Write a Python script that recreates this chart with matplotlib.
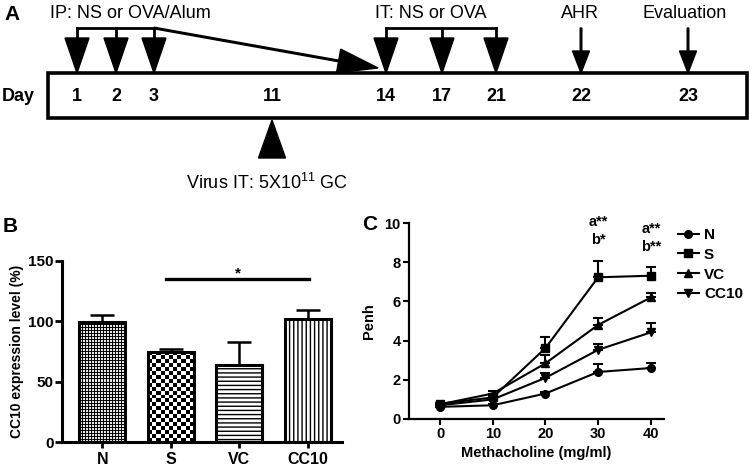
import numpy as np
import matplotlib
matplotlib.use("Agg")
import matplotlib.pyplot as plt
from matplotlib.patches import Rectangle

plt.rcParams['font.family'] = ['Liberation Sans', 'DejaVu Sans']
plt.rcParams['mathtext.default'] = 'regular'
plt.rcParams['hatch.linewidth'] = 1.0

# ---- panel A: timeline ----
days = ['1', '2', '3', '11', '14', '17', '21', '22', '23']
ip_days = ['1', '2', '3']
it_days = ['14', '17', '21']
virus_day = '11'
ahr_day = '22'
eval_day = '23'

# ---- panel B: CC10 expression ----
groups = ['N', 'S', 'VC', 'CC10']
cc10_level = [99.6, 74.9, 63.9, 102.1]
cc10_err = [5.7, 1.9, 18.7, 7.2]
sig_from, sig_to, sig_y = 0.93, 3.02, 135

# ---- panel C: AHR ----
methacholine = [0, 10, 20, 30, 40]
penh_n = [0.62, 0.70, 1.30, 2.40, 2.60]
penh_n_err = [0.05, 0.05, 0.06, 0.42, 0.25]
penh_s = [0.78, 1.10, 3.62, 7.23, 7.31]
penh_s_err = [0.05, 0.10, 0.55, 0.85, 0.43]
penh_vc = [0.75, 1.30, 2.84, 4.80, 6.20]
penh_vc_err = [0.05, 0.15, 0.40, 0.33, 0.23]
penh_cc10 = [0.70, 1.00, 2.10, 3.53, 4.42]
penh_cc10_err = [0.05, 0.10, 0.25, 0.32, 0.48]

fig = plt.figure(figsize=(7.5, 4.68), dpi=100)

# schematic drawn in a full-figure pixel frame
ax_a = fig.add_axes([0, 0, 1, 1])
ax_a.set_xlim(0, 750)
ax_a.set_ylim(468, 0)
ax_a.axis('off')

day_x = dict(zip(days, [77, 116, 154, 272, 386, 442, 496, 581, 688]))
box_left, box_right, box_top, box_bot = 48, 747, 73, 118
bracket_y, head_start = 28, 38

ax_a.add_patch(Rectangle((box_left, box_top), box_right - box_left, box_bot - box_top,
                         fill=False, lw=2.6, ec='k'))
ax_a.text(2, (box_top + box_bot) / 2 + 1, 'Day', fontsize=13, fontweight='bold', va='center')
for d in days:
    ax_a.text(day_x[d], (box_top + box_bot) / 2 + 1, d, fontsize=13, fontweight='bold',
              ha='center', va='center')


def big_down(x):
    ax_a.plot([x, x], [bracket_y, head_start], color='k', lw=2)
    ax_a.arrow(x, head_start, 0, box_top - head_start, width=0, head_width=24,
               head_length=box_top - head_start, length_includes_head=True, fc='k', ec='k')


for group in (ip_days, it_days):
    xs = [day_x[d] for d in group]
    ax_a.plot([xs[0], xs[-1]], [bracket_y, bracket_y], color='k', lw=2)
    for x in xs:
        big_down(x)

# long arrow from IP bracket to day 14
ax_a.arrow(day_x['3'], bracket_y, day_x['14'] - 8 - day_x['3'], box_top - 5 - bracket_y,
           width=1.6, head_width=24, head_length=40, length_includes_head=True,
           fc='k', ec='k')

for d in (ahr_day, eval_day):
    ax_a.arrow(day_x[d], bracket_y, 0, box_top - bracket_y, width=1.6, head_width=17,
               head_length=22, length_includes_head=True, fc='k', ec='k')

ax_a.arrow(day_x[virus_day], 158, 0, box_bot + 2 - 158, width=0, head_width=27,
           head_length=158 - box_bot - 2, length_includes_head=True, fc='k', ec='k')

ax_a.text(4, 14, 'A', fontsize=15, fontweight='bold', va='center')
ax_a.text(50, 13, 'IP: NS or OVA/Alum', fontsize=13, va='center')
ax_a.text(375, 13, 'IT: NS or OVA', fontsize=13, va='center')
ax_a.text(561, 13, 'AHR', fontsize=13, va='center')
ax_a.text(642, 13, 'Evaluation', fontsize=13, va='center')
ax_a.text(186, 183, 'Virus IT: 5X10$^{11}$ GC', fontsize=13, va='center')
ax_a.text(3, 226, 'B', fontsize=15, fontweight='bold', va='center')
ax_a.text(362, 224, 'C', fontsize=15, fontweight='bold', va='center')

# ---- panel B ----
ax_b = fig.add_axes([62 / 750, 1 - 442 / 468, 280 / 750, 181 / 468])
xpos = np.arange(len(groups))
ax_b.set_xlim(-0.59, 3.5)
ax_b.set_ylim(0, 150)

hatches = [None, None, '----', '||||']
bars = ax_b.bar(xpos, cc10_level, width=0.67, color='white', edgecolor='k',
                linewidth=0, zorder=2)
for b, h in zip(bars, hatches):
    if h:
        b.set_hatch(h)

fig.canvas.draw()


def pattern_fill(bar, tile, cell_px):
    ext = bar.get_window_extent()
    ny = int(round(ext.height / cell_px))
    nx = int(round(ext.width / cell_px))
    reps_y = ny // tile.shape[0] + 2
    reps_x = nx // tile.shape[1] + 2
    img = np.tile(tile, (reps_y, reps_x))[:ny, :nx]
    x0 = bar.get_x()
    im = ax_b.imshow(img, extent=(x0, x0 + bar.get_width(), 0, bar.get_height()),
                     cmap='gray', vmin=0, vmax=1, interpolation='nearest',
                     aspect='auto', zorder=2.5, origin='lower')
    im.set_clip_path(bar)


pattern_fill(bars[0], np.array([[0, 0.9, 0.9], [0, 0.9, 0.9], [0, 0, 0]]), 1.0)
pattern_fill(bars[1], np.array([[0, 1], [1, 0]]) * 1.0, 4.0)
ax_b.set_xlim(-0.59, 3.5)
ax_b.set_ylim(0, 150)

ax_b.bar(xpos, cc10_level, width=0.67, fill=False, edgecolor='k', linewidth=2.2, zorder=3)
ax_b.errorbar(xpos, cc10_level, yerr=[np.zeros(len(groups)), cc10_err], fmt='none',
              ecolor='k', elinewidth=1.8, capsize=8.5, capthick=1.8, zorder=1.5)
ax_b.plot([sig_from, sig_to], [sig_y, sig_y], color='k', lw=2.4)
ax_b.text((sig_from + sig_to) / 2, sig_y + 5, '*', ha='center', va='center',
          fontsize=11, fontweight='bold')

ax_b.set_yticks([0, 50, 100, 150])
ax_b.set_xticks(xpos)
ax_b.set_xticklabels(groups)
ax_b.tick_params(axis='x', length=4, width=2, pad=3, labelsize=11.5)
ax_b.tick_params(axis='y', length=5, width=2, pad=1, labelsize=11)
for lab in ax_b.get_xticklabels() + ax_b.get_yticklabels():
    lab.set_fontweight('bold')
for s in ('top', 'right'):
    ax_b.spines[s].set_visible(False)
for s in ('left', 'bottom'):
    ax_b.spines[s].set_linewidth(2.2)
ax_b.set_ylabel('CC10 expression level (%)', fontsize=10, fontweight='bold', labelpad=3)

# ---- panel C ----
ax_c = fig.add_axes([409 / 750, 1 - 419 / 468, 255 / 750, 196 / 468])
series = [('N', penh_n, penh_n_err, 'o'),
          ('S', penh_s, penh_s_err, 's'),
          ('VC', penh_vc, penh_vc_err, '^'),
          ('CC10', penh_cc10, penh_cc10_err, 'v')]
handles = []
for name, vals, errs, mk in series:
    cont = ax_c.errorbar(methacholine, vals, yerr=[np.zeros(len(vals)), errs],
                         color='k', marker=mk, ms=5.5, lw=1.5, elinewidth=1.5,
                         capsize=3.5, capthick=1.5, label=name)
    handles.append(cont.lines[0])

ax_c.set_xlim(-5.9, 42.5)
ax_c.set_ylim(0, 10)
ax_c.set_xticks(methacholine)
ax_c.set_yticks([0, 2, 4, 6, 8, 10])
ax_c.tick_params(axis='both', length=4, width=1.5, pad=2, labelsize=10.5)
for lab in ax_c.get_xticklabels() + ax_c.get_yticklabels():
    lab.set_fontweight('bold')
for s in ('top', 'right'):
    ax_c.spines[s].set_visible(False)
for s in ('left', 'bottom'):
    ax_c.spines[s].set_linewidth(1.6)
ax_c.set_xlabel('Methacholine (mg/ml)', fontsize=10.5, fontweight='bold', labelpad=3)
ax_c.set_ylabel('Penh', fontsize=10.5, fontweight='bold', labelpad=6)

ax_c.text(30, 10.05, 'a**', ha='center', va='center', fontsize=10.5, fontweight='bold', clip_on=False)
ax_c.text(30, 9.13, 'b*', ha='center', va='center', fontsize=10.5, fontweight='bold', clip_on=False)
ax_c.text(40, 9.69, 'a**', ha='center', va='center', fontsize=10.5, fontweight='bold', clip_on=False)
ax_c.text(40, 8.80, 'b**', ha='center', va='center', fontsize=10.5, fontweight='bold', clip_on=False)

fig.legend(handles, [s[0] for s in series], loc='upper left',
           bbox_to_anchor=(678 / 750, 1 - 228 / 468), frameon=False,
           prop={'weight': 'bold', 'size': 11}, handlelength=1.35,
           handletextpad=0.35, labelspacing=0.38, borderpad=0, borderaxespad=0)

fig.savefig('out.png', dpi=100)
